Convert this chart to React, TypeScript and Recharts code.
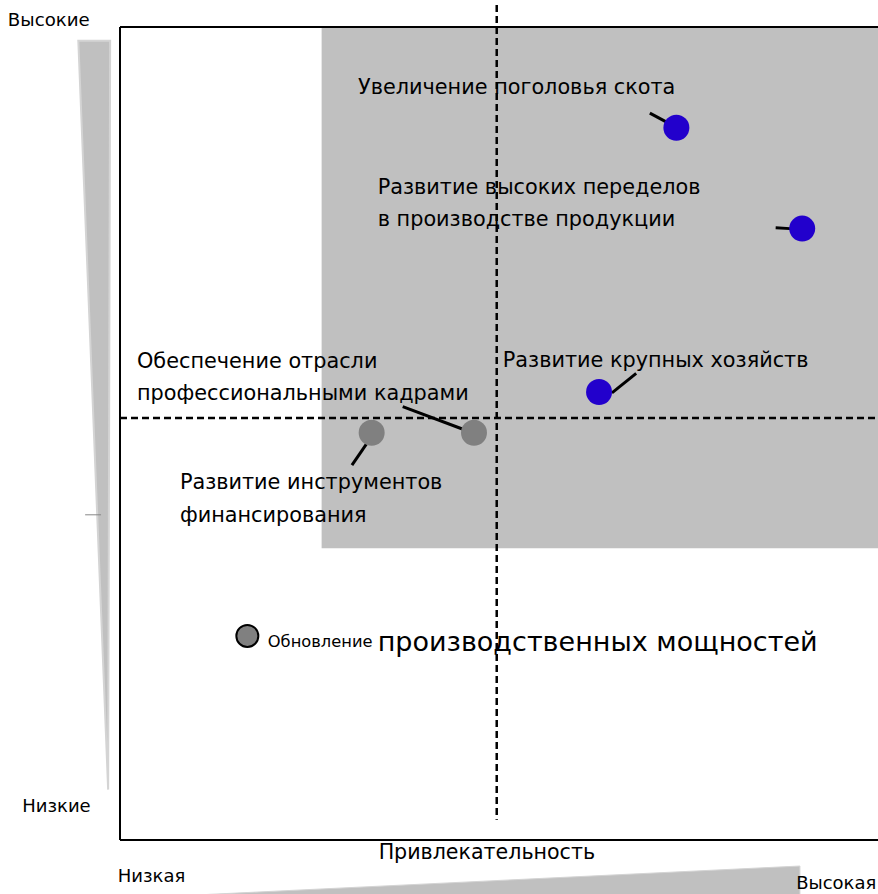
import React from 'react';
import { ScatterChart, Scatter, XAxis, YAxis, ReferenceLine, ReferenceArea } from 'recharts';

// Positions in a 0..100 x 0..100 "attractiveness / effect" plane
const bluePoints = [
  { name: 'Увеличение поголовья скота', x: 73.4, y: 87.6 },
  { name: 'Развитие высоких переделов', x: 90.0, y: 75.2 },
  { name: 'Развитие крупных хозяйств', x: 63.2, y: 55.1 },
];
const greyPoints = [
  { name: 'Обеспечение отрасли профессиональными кадрами', x: 46.7, y: 50.1 },
  { name: 'Развитие инструментов финансирования', x: 33.2, y: 50.1 },
];
const outlinedPoints = [
  { name: 'Обновление производственных мощностей', x: 16.8, y: 25.1 },
];

const leaders = [
  [{ x: 69.9, y: 89.4 }, { x: 72.3, y: 88.2 }],
  [{ x: 86.5, y: 75.3 }, { x: 88.4, y: 75.2 }],
  [{ x: 64.9, y: 55.0 }, { x: 68.1, y: 57.4 }],
  [{ x: 37.3, y: 53.3 }, { x: 45.6, y: 50.4 }],
  [{ x: 30.6, y: 46.1 }, { x: 32.5, y: 48.7 }],
];

const labels = [
  { x: 31.4, y: 92.6, text: 'Увеличение поголовья скота', size: 20.8 },
  { x: 34.0, y: 80.3, text: 'Развитие высоких переделов', size: 20.8 },
  { x: 34.0, y: 76.4, text: 'в производстве продукции', size: 20.8 },
  { x: 2.24, y: 58.9, text: 'Обеспечение отрасли', size: 20.8 },
  { x: 2.24, y: 55.0, text: 'профессиональными кадрами', size: 20.8 },
  { x: 50.5, y: 59.0, text: 'Развитие крупных хозяйств', size: 20.8 },
  { x: 7.9, y: 44.0, text: 'Развитие инструментов', size: 20.8 },
  { x: 7.9, y: 40.0, text: 'финансирования', size: 20.8 },
];
const renewalLabel = { x: 19.5, y: 24.5, small: 'Обновление', big: 'производственных мощностей' };

const outerLabels = [
  { x: -14.8, y: 100.9, text: 'Высокие', size: 18.2, anchor: 'start' },
  { x: -12.9, y: 4.2, text: 'Низкие', size: 18, anchor: 'start' },
  { x: 48.4, y: -1.5, text: 'Привлекательность', size: 20.6, anchor: 'middle' },
  { x: -0.3, y: -4.4, text: 'Низкая', size: 18, anchor: 'start' },
  { x: 89.2, y: -5.2, text: 'Высокая', size: 18, anchor: 'start' },
];

const vDivider = 49.7;
const hDivider = 51.9;
const quadrant = { x1: 26.6, x2: 100, y1: 35.9, y2: 100 };

const FONT = 'DejaVu Sans';

const LeftWedge = (p: any) => {
  const { x, y, width, height } = p;
  return (
    <polygon
      points={`${x},${y} ${x + width},${y} ${x + width - 2},${y + height}`}
      fill="#c0c0c0"
      stroke="#d4d4d4"
      strokeWidth={2}
    />
  );
};
const BottomWedge = (p: any) => {
  const { x, y, width, height } = p;
  return (
    <polygon
      points={`${x},${y + height - 7} ${x + width},${y} ${x + width},${y + height} ${x},${y + height}`}
      fill="#c0c0c0"
      stroke="#d4d4d4"
      strokeWidth={1}
    />
  );
};

const outerText = (item: any) => (p: any) => (
  <text
    x={p.cx}
    y={p.cy}
    fontFamily={FONT}
    fontSize={item.size}
    textAnchor={item.anchor}
    dominantBaseline="central"
    fill="#000"
  >
    {item.text}
  </text>
);

export default function App() {
  return (
    <div style={{ position: 'absolute', left: 0, top: 0, background: '#fff' }}>
      <ScatterChart width={878} height={894} margin={{ top: 27, right: 0, bottom: 54, left: 120 }}>
        <XAxis type="number" dataKey="x" domain={[0, 100]} hide />
        <YAxis type="number" dataKey="y" domain={[0, 100]} hide />
        <ReferenceArea
          x1={quadrant.x1}
          x2={quadrant.x2}
          y1={quadrant.y1}
          y2={quadrant.y2}
          fill="#c0c0c0"
          fillOpacity={1}
          stroke="none"
          ifOverflow="visible"
        />
        <ReferenceArea x1={-5.5} x2={-1.3} y1={6.2} y2={98.3} ifOverflow="visible" shape={LeftWedge} />
        <ReferenceArea x1={10.6} x2={89.7} y1={-3.2} y2={-7.6} ifOverflow="visible" shape={BottomWedge} />
        <ReferenceLine
          segment={[{ x: -4.6, y: 40.0 }, { x: -2.5, y: 40.0 }]}
          stroke="#888"
          strokeWidth={1}
          ifOverflow="visible"
        />
        <ReferenceLine segment={[{ x: 0, y: 100 }, { x: 100, y: 100 }]} stroke="#000" strokeWidth={2} ifOverflow="visible" />
        <ReferenceLine segment={[{ x: 0, y: 0 }, { x: 100, y: 0 }]} stroke="#000" strokeWidth={2} ifOverflow="visible" />
        <ReferenceLine segment={[{ x: 0, y: 0 }, { x: 0, y: 100 }]} stroke="#000" strokeWidth={2} ifOverflow="visible" />
        <ReferenceLine
          segment={[{ x: vDivider, y: 102.7 }, { x: vDivider, y: 2.5 }]}
          stroke="#000"
          strokeWidth={2.5}
          strokeDasharray="7 4"
          ifOverflow="visible"
        />
        <ReferenceLine
          segment={[{ x: 0, y: hDivider }, { x: 100, y: hDivider }]}
          stroke="#000"
          strokeWidth={2.5}
          strokeDasharray="7 4"
          ifOverflow="visible"
        />
        {leaders.map((seg, i) => (
          <ReferenceLine key={i} segment={seg} stroke="#000" strokeWidth={3} ifOverflow="visible" />
        ))}
        <Scatter
          data={bluePoints}
          isAnimationActive={false}
          shape={(p: any) => <circle cx={p.cx} cy={p.cy} r={13} fill="#2200cc" />}
        />
        <Scatter
          data={greyPoints}
          isAnimationActive={false}
          shape={(p: any) => <circle cx={p.cx} cy={p.cy} r={13} fill="#808080" />}
        />
        <Scatter
          data={outlinedPoints}
          isAnimationActive={false}
          shape={(p: any) => <circle cx={p.cx} cy={p.cy} r={11} fill="#808080" stroke="#000" strokeWidth={2} />}
        />
        <Scatter
          data={labels}
          isAnimationActive={false}
          shape={(p: any) => (
            <text
              x={p.cx}
              y={p.cy}
              fontFamily={FONT}
              fontSize={p.payload.size}
              dominantBaseline="central"
              fill="#000"
            >
              {p.payload.text}
            </text>
          )}
        />
        <Scatter
          data={[renewalLabel]}
          isAnimationActive={false}
          shape={(p: any) => (
            <text x={p.cx} y={p.cy} fontFamily={FONT} dominantBaseline="central" fill="#000">
              <tspan fontSize={16.3}>{p.payload.small} </tspan>
              <tspan fontSize={27}>{p.payload.big}</tspan>
            </text>
          )}
        />
        {outerLabels.map((item, i) => (
          <ReferenceArea
            key={'o' + i}
            x1={item.x}
            x2={item.x}
            y1={item.y}
            y2={item.y}
            ifOverflow="visible"
            shape={(p: any) => outerText(item)({ cx: p.x, cy: p.y })}
          />
        ))}
      </ScatterChart>
    </div>
  );
}
